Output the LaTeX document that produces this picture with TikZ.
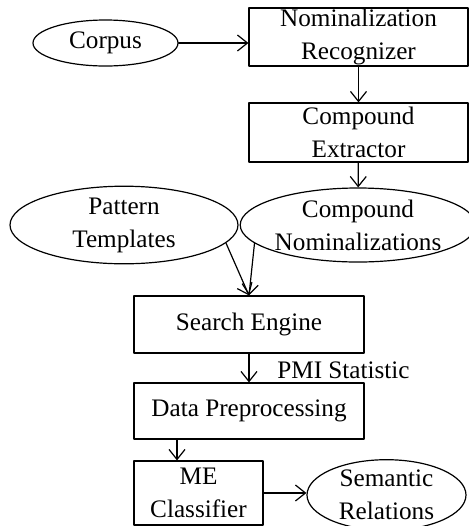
\documentclass[tikz,border=0pt]{standalone}
\usepackage{fontspec}
\setmainfont{Liberation Serif}
\usepackage{tikz}
\usetikzlibrary{arrows.meta,shapes.geometric}

\begin{document}
\begin{tikzpicture}[line cap=round,line join=round,>={Straight Barb[length=5pt,width=8pt]},x=0.5pt,y=-0.5pt,
  box/.style={draw,line width=0.6pt,rectangle,inner sep=0pt,align=center,font=\fontsize{12.6}{16.5}\selectfont},
  oval/.style={draw,line width=0.6pt,ellipse,inner sep=0pt,align=center,font=\fontsize{12.6}{16.5}\selectfont},
  link/.style={->,line width=0.6pt}]
\useasboundingbox (0,0) rectangle (469,526);
\node[oval,minimum width=72.5pt,minimum height=23pt] (corpus) at (105.5,43) {Corpus};
\node[box,minimum width=109.5pt,minimum height=29pt] (nomrec) at (358.5,37) {Nominalization\\Recognizer};
\node[box,minimum width=109.5pt,minimum height=29.5pt] (compext) at (358.5,132.5) {Compound\\Extractor};
\node[oval,minimum width=114pt,minimum height=37pt] (pattern) at (124,225) {Pattern\\Templates};
\node[oval,minimum width=110pt,minimum height=37pt] (compnom) at (358,225) {Compound\\Nominalizations};
\node[box,minimum width=115pt,minimum height=28.5pt] (search) at (249,324.5) {Search Engine};
\node[box,minimum width=115pt,minimum height=28pt] (prep) at (249,411) {Data Preprocessing};
\node[box,minimum width=64.5pt,minimum height=32pt] (mecls) at (198.5,493) {ME\\Classifier};
\node[oval,minimum width=79.5pt,minimum height=30pt] (semrel) at (386.5,495) {Semantic\\Relations};
\node[font=\fontsize{12.6}{16.5}\selectfont,inner sep=0pt] (pmi) at (343.5,370) {PMI Statistic};
% connectors
\draw[link] (corpus.east) -- (corpus.east -| nomrec.west);
\draw[link] (nomrec) -- (compext);
\draw[link] (compext) -- (compnom);
\draw[link] (pattern.-10) -- (search.north);
\draw[link] (compnom.190) -- (search.north);
\draw[link] (search) -- (prep);
\draw[link] ([xshift=-10.75pt]mecls.north |- prep.south) -- ([xshift=-10.75pt]mecls.north);
\draw[link] (mecls.east) -- (mecls.east -| semrel.west);
\end{tikzpicture}
\end{document}
